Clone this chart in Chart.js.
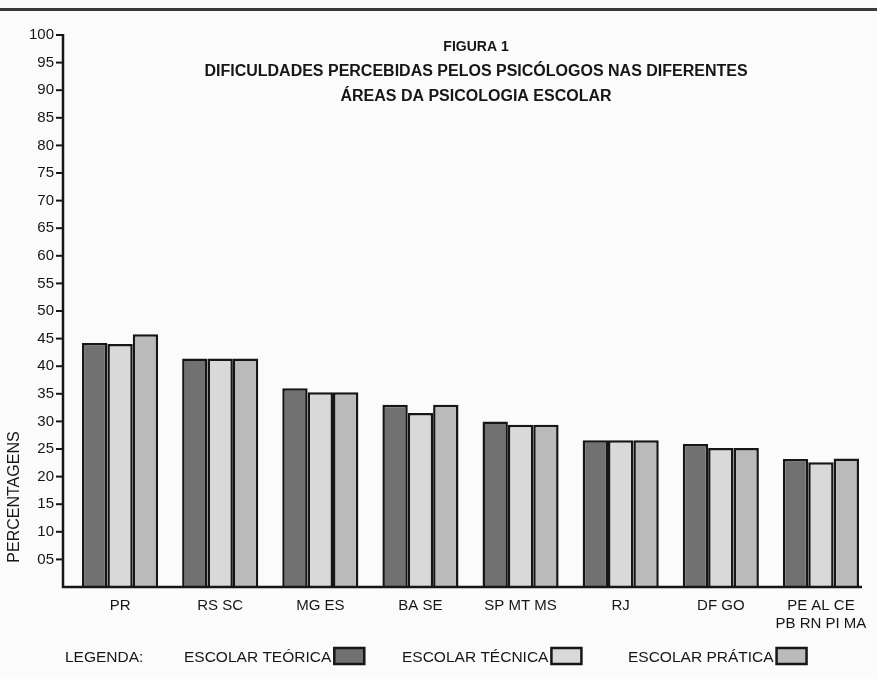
<!DOCTYPE html>
<html>
<head>
<meta charset="utf-8">
<script src="https://cdn.jsdelivr.net/npm/chart.js@4.4.0/dist/chart.umd.min.js"></script>
<style>
  body { margin: 0; background: #fbfbfb; }
  #wrap { width: 877px; height: 679px; }
</style>
</head>
<body>
<div id="wrap"><canvas id="myChart" width="877" height="679"></canvas></div>
<script>
const regions = ["PR", "RS SC", "MG ES", "BA SE", "SP MT MS", "RJ", "DF GO", ["PE AL CE", "PB RN PI MA"]];
const teorica = [44.2, 41.4, 36.0, 33.0, 30.0, 26.6, 25.9, 23.2];
const tecnica = [44.0, 41.4, 35.3, 31.5, 29.4, 26.6, 25.2, 22.6];
const pratica = [45.8, 41.4, 35.3, 33.0, 29.4, 26.6, 25.2, 23.3];
const titleLines = ["FIGURA 1", "DIFICULDADES PERCEBIDAS PELOS PSICÓLOGOS NAS DIFERENTES", "ÁREAS DA PSICOLOGIA ESCOLAR"];

const ink = "#161616";
const font = "'Liberation Sans', Arial, sans-serif";

// draws the parts that sit off the normal chart.js places
const extras = {
  id: "extras",
  afterDraw(chart) {
    const ctx = chart.ctx;
    const y = chart.scales.y;
    const area = chart.chartArea;
    const axisX = area.left - 7;
    ctx.save();

    // frame line at the top
    ctx.fillStyle = "#3a3a3a";
    ctx.fillRect(0, 8, 877, 3);

    // y axis + ticks
    ctx.strokeStyle = ink;
    ctx.lineWidth = 2.5;
    ctx.beginPath();
    ctx.moveTo(axisX, y.getPixelForValue(100) - 1);
    ctx.lineTo(axisX, y.getPixelForValue(0));
    ctx.lineTo(862, y.getPixelForValue(0));
    ctx.stroke();
    ctx.lineWidth = 2;
    y.ticks.forEach((t) => {
      if (t.value === 0) return;
      const py = y.getPixelForValue(t.value);
      ctx.beginPath();
      ctx.moveTo(axisX - 7, py);
      ctx.lineTo(axisX, py);
      ctx.stroke();
    });

    // title
    ctx.fillStyle = ink;
    ctx.textAlign = "center";
    ctx.textBaseline = "middle";
    titleLines.forEach((line, i) => {
      ctx.font = (i === 0 ? "bold 14px " : "bold 16px ") + font;
      ctx.fillText(line, 476, 47 + i * 25);
    });

    // y title
    ctx.save();
    ctx.translate(15, 497);
    ctx.rotate(-Math.PI / 2);
    ctx.font = "16px " + font;
    ctx.fillText("PERCENTAGENS", 0, 0);
    ctx.restore();

    // legend, text first then box
    ctx.font = "15.5px " + font;
    ctx.textAlign = "left";
    ctx.fillText("LEGENDA:", 65, 658);
    const legendX = [184, 402, 628];
    chart.data.datasets.forEach((ds, i) => {
      ctx.fillStyle = ink;
      ctx.fillText(ds.label, legendX[i], 658);
      const w = ctx.measureText(ds.label).width;
      ctx.fillStyle = ds.backgroundColor;
      ctx.fillRect(legendX[i] + w + 3, 648, 30, 16);
      ctx.lineWidth = 2.5;
      ctx.strokeStyle = ink;
      ctx.strokeRect(legendX[i] + w + 3, 648, 30, 16);
    });
    ctx.restore();
  },
};

const ctx = document.getElementById("myChart").getContext("2d");

const data = {
  labels: regions,
  datasets: [
    { label: "ESCOLAR TEÓRICA", data: teorica, backgroundColor: "#717171" },
    { label: "ESCOLAR TÉCNICA", data: tecnica, backgroundColor: "#d9d9d9" },
    { label: "ESCOLAR PRÁTICA", data: pratica, backgroundColor: "#bababa" },
  ],
};

const config = {
  type: "bar",
  data: data,
  options: {
    responsive: false,
    animation: false,
    layout: { padding: { top: 35, right: 6, left: 0, bottom: 0 } },
    datasets: {
      bar: {
        categoryPercentage: 0.76,
        barPercentage: 1.0,
        borderWidth: 2.5,
        borderColor: ink,
        borderSkipped: "bottom",
      },
    },
    plugins: {
      legend: { display: false },
      tooltip: { enabled: false },
    },
    scales: {
      x: {
        grid: { display: false },
        border: { display: false },
        ticks: {
          color: ink,
          font: { family: font, size: 15 },
          padding: 2,
          maxRotation: 0,
          autoSkip: false,
        },
        afterFit: (s) => { s.height = 92; },
      },
      y: {
        min: 0,
        max: 100,
        grid: { display: false },
        border: { display: false },
        ticks: {
          stepSize: 5,
          color: ink,
          padding: 8,
          font: { family: font, size: 15 },
          callback: (v) => (v === 0 ? "" : v === 5 ? "05" : v),
        },
        afterFit: (s) => { s.width = 70; },
      },
    },
  },
  plugins: [extras],
};

const myChart = new Chart(ctx, config);
</script>
</body>
</html>
